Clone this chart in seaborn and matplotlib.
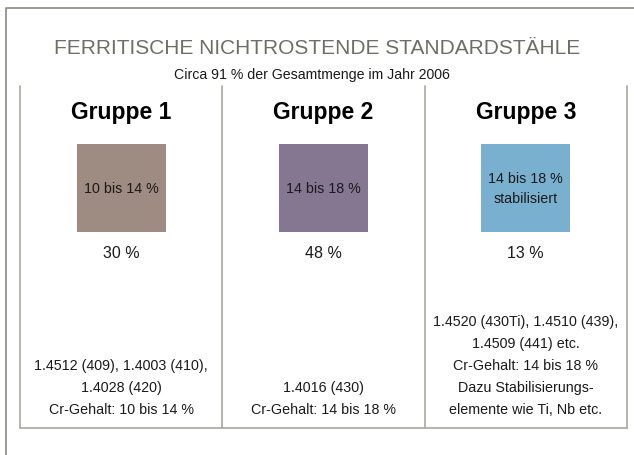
import numpy as np
import matplotlib
matplotlib.use("Agg")
import matplotlib.pyplot as plt
import seaborn as sns

sns.set_theme(style="white")
plt.rcParams['font.family'] = ['Liberation Sans', 'DejaVu Sans']

# ---------------------------------------------
# Data
# ---------------------------------------------
title = "FERRITISCHE NICHTROSTENDE STANDARDSTÄHLE"
subtitle = "Circa 91 % der Gesamtmenge im Jahr 2006"
groups = ["Gruppe 1", "Gruppe 2", "Gruppe 3"]
box_labels = ["10 bis 14 %", "14 bis 18 %", "14 bis 18 %\nstabilisiert"]
shares = ["30 %", "48 %", "13 %"]
box_colors = ["#9e8c82", "#857792", "#7ab0cf"]
grades = [
    "1.4512 (409), 1.4003 (410),\n1.4028 (420)\nCr-Gehalt: 10 bis 14 %",
    "1.4016 (430)\nCr-Gehalt: 14 bis 18 %",
    "1.4520 (430Ti), 1.4510 (439),\n1.4509 (441) etc.\nCr-Gehalt: 14 bis 18 %\nDazu Stabilisierungs-\nelemente wie Ti, Nb etc.",
]

line_col = "#a8a8a0"
text_col = "#1a1a1a"

fig = plt.figure(figsize=(6.34, 4.55), dpi=100)
ax = fig.add_axes([0, 0, 1, 1])

# x in column units (column i centred on i), y in pixels from top
col_w = 202.3
left_px = 20
x0 = -0.5 - left_px / col_w
x1 = x0 + 634 / col_w
ax.set_xlim(x0, x1)
ax.set_ylim(455, 0)
ax.axis("off")

def px(x):
    return x0 + x / col_w

# outer frame
ax.plot([px(6), px(6), px(634)], [455, 8, 8], color="#8a8a82", lw=1.2)

# table lines
for i in range(len(groups) + 1):
    ax.plot([i - 0.5, i - 0.5], [86, 428], color=line_col, lw=1.2)
ax.plot([-0.5, len(groups) - 0.5], [428, 428], color=line_col, lw=1.2)

ax.text(px(317), 48, title, ha="center", va="center",
        fontsize=15, color="#6e6e69")
ax.text(px(312), 75, subtitle, ha="center", va="center",
        fontsize=10.2, color=text_col)

idx = np.arange(len(groups))
box_w = 89 / col_w
ax.bar(idx, 88, bottom=144, width=box_w, color=box_colors, linewidth=0)

for i in idx:
    ax.text(i, 113, groups[i], ha="center", va="center", fontsize=16.5,
            fontweight="bold", color="black")
    ax.text(i, 189, box_labels[i], ha="center", va="center", fontsize=10.3,
            color=text_col, linespacing=1.6)
    ax.text(i, 253, shares[i], ha="center", va="center", fontsize=11.5,
            color=text_col)
    ax.text(i, 417, grades[i], ha="center", va="bottom", fontsize=10.3,
            color=text_col, linespacing=1.72)

fig.savefig("out.png", dpi=100)
